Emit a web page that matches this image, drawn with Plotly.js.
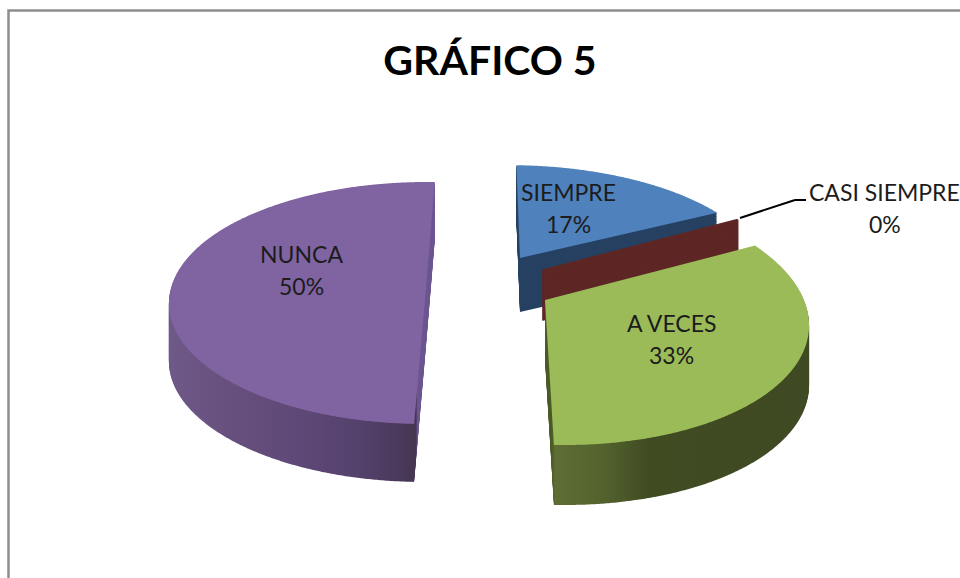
<!DOCTYPE html>
<html>
<head>
<meta charset="utf-8">
<script src="https://cdn.plot.ly/plotly-3.0.1.min.js"></script>
<style>html,body{margin:0;padding:0;background:#fff;overflow:hidden}</style>
</head>
<body>
<div id="chart" style="width:960px;height:578px"></div>
<script>
// Data (the 0 % slice keeps a sliver so that its wall exists)
var categories = ['SIEMPRE', 'CASI SIEMPRE', 'A VECES', 'NUNCA'];
var values = [17, 0.1, 33, 50];
var topColors = ['#4f81bd', '#5e2725', '#9bbb59', '#8064a2'];
var title = 'GRÁFICO 5';

// Styling and projection of the pie into its tilted, extruded view
var W = 960, H = 578, LEVELS = 60;
var poses = [
  {ax: 520, ay: 258, rx: 240, ry: 106, p: 0.124, s: 11, depth: 54},
  {ax: 543, ay: 270, rx: 236, ry: 118, p: 0.124, s: 11, depth: 50},
  {ax: 545, ay: 300, rx: 259, ry: 129, p: 0.124, s: 20, depth: 60},
  {ax: 426, ay: 288, rx: 255, ry: 121, p: 0.124, s: -1, depth: 58}
];
var wallStops = [
  [[516, '#254061'], [720, '#254061']],
  [[540, '#5e2725'], [745, '#5e2725']],
  [[545, '#4a5a26'], [552, '#4a5a26'], [555, '#5d6d34'], [600, '#54642e'], [650, '#404b22'], [810, '#3f4a24']],
  [[168, '#6f5989'], [230, '#67507d'], [300, '#5e4877'], [360, '#54416c'], [416, '#453653'], [417.5, '#6b5590'], [440, '#6b5590']]
];
var labelPos = [
  {x: 568, y1: 192, y2: 224},
  {x: 884.5, y1: 192, y2: 224},
  {x: 671, y1: 323, y2: 355},
  {x: 301, y1: 254, y2: 286}
];

function fx(x) { return x / W; }
function fy(y) { return 1 - y / H; }

var total = values.reduce(function (a, b) { return a + b; }, 0);
var annotations = [];
categories.forEach(function (c, i) {
  var pct = Math.round(values[i] / total * 100) + '%';
  [[c, labelPos[i].y1], [pct, labelPos[i].y2]].forEach(function (t) {
    annotations.push({
      text: t[0], showarrow: false, xref: 'paper', yref: 'paper',
      x: fx(labelPos[i].x), y: fy(t[1]), xanchor: 'center', yanchor: 'middle',
      font: {family: 'Lato, Carlito, sans-serif', size: 23, color: '#1c1c1c'}
    });
  });
});

var traces = [];
for (var k = 0; k <= LEVELS; k++) {
  traces.push({
    type: 'pie', labels: categories, values: values, sort: false, direction: 'clockwise',
    rotation: 2, textinfo: 'none', hoverinfo: 'skip', showlegend: false,
    marker: {colors: topColors, line: {width: 0}}
  });
}

var layout = {
  width: W, height: H, margin: {l: 0, r: 0, t: 0, b: 0}, paper_bgcolor: '#ffffff',
  showlegend: false,
  title: {
    text: title, x: 490 / W, xanchor: 'center', y: fy(61), yanchor: 'middle', yref: 'container',
    font: {family: 'Lato, Carlito, sans-serif', size: 41, weight: 700, color: '#000000'}
  },
  annotations: annotations,
  shapes: [
    {type: 'rect', xref: 'paper', yref: 'paper', x0: fx(8.5), x1: fx(1100), y0: fy(10.5), y1: fy(700),
     line: {color: '#8e8e8e', width: 2.5}, layer: 'below'},
    {type: 'line', xref: 'paper', yref: 'paper', x0: fx(740), y0: fy(218), x1: fx(795), y1: fy(200),
     line: {color: '#000000', width: 2}, layer: 'above'},
    {type: 'line', xref: 'paper', yref: 'paper', x0: fx(795), y0: fy(200), x1: fx(806), y1: fy(200),
     line: {color: '#000000', width: 2}, layer: 'above'}
  ]
};

var gd = document.getElementById('chart');
Plotly.newPlot(gd, traces, layout, {staticPlot: true, displayModeBar: false}).then(function () {
  var cd = gd.calcdata[0][0], cx = cd.cx, cy = cd.cy, r = cd.r;
  var groups = gd.querySelectorAll('.pielayer .trace');
  var topSlices = groups[groups.length - 1].querySelectorAll('.slice path.surface');

  // projected outline of each slice, computed from the path Plotly drew
  var outlines = [];
  topSlices.forEach(function (path, i) {
    var L = path.getTotalLength(), q = poses[i], pts = [];
    var lens = [0, r];
    for (var d = r + 2; d < L - r; d += 2) lens.push(d);
    lens.push(L - r);
    lens.forEach(function (len) {
      var pt = path.getPointAtLength(len);
      var u = (pt.x - cx) / r, v = (pt.y - cy) / r, w = 1 + q.p * v;
      pts.push((q.ax + q.rx * u * w + q.s * v).toFixed(2) + ',' + (q.ay + q.ry * v * w).toFixed(2));
    });
    outlines.push('M' + pts.join('L') + 'Z');
  });

  // wall gradients
  var svg = gd.querySelector('.main-svg');
  var NS = 'http://www.w3.org/2000/svg';
  var defs = document.createElementNS(NS, 'defs');
  wallStops.forEach(function (stops, i) {
    var g = document.createElementNS(NS, 'linearGradient');
    g.setAttribute('id', 'wall' + i);
    g.setAttribute('gradientUnits', 'userSpaceOnUse');
    var x0 = stops[0][0], x1 = stops[stops.length - 1][0];
    g.setAttribute('x1', x0); g.setAttribute('x2', x1); g.setAttribute('y1', 0); g.setAttribute('y2', 0);
    stops.forEach(function (st) {
      var s = document.createElementNS(NS, 'stop');
      s.setAttribute('offset', (st[0] - x0) / (x1 - x0));
      s.setAttribute('stop-color', st[1]);
      g.appendChild(s);
    });
    defs.appendChild(g);
  });
  svg.insertBefore(defs, svg.firstChild);

  // deepest level first, the top face last
  groups.forEach(function (group, idx) {
    var t = 1 - idx / LEVELS;
    group.querySelectorAll('.slice path.surface').forEach(function (path, i) {
      path.setAttribute('d', outlines[i]);
      path.setAttribute('transform', 'translate(0,' + (t * poses[i].depth).toFixed(2) + ')');
      if (i === 1) {
        // the sliver is thinner than a pixel: a solid edge keeps its wall opaque
        path.style.fill = topColors[1];
        path.style.stroke = topColors[1];
        path.style.strokeWidth = '1.6px';
        path.style.strokeOpacity = 1;
      } else if (idx < LEVELS) {
        path.style.fill = 'url(#wall' + i + ')';
      }
    });
  });
});
</script>
</body>
</html>
